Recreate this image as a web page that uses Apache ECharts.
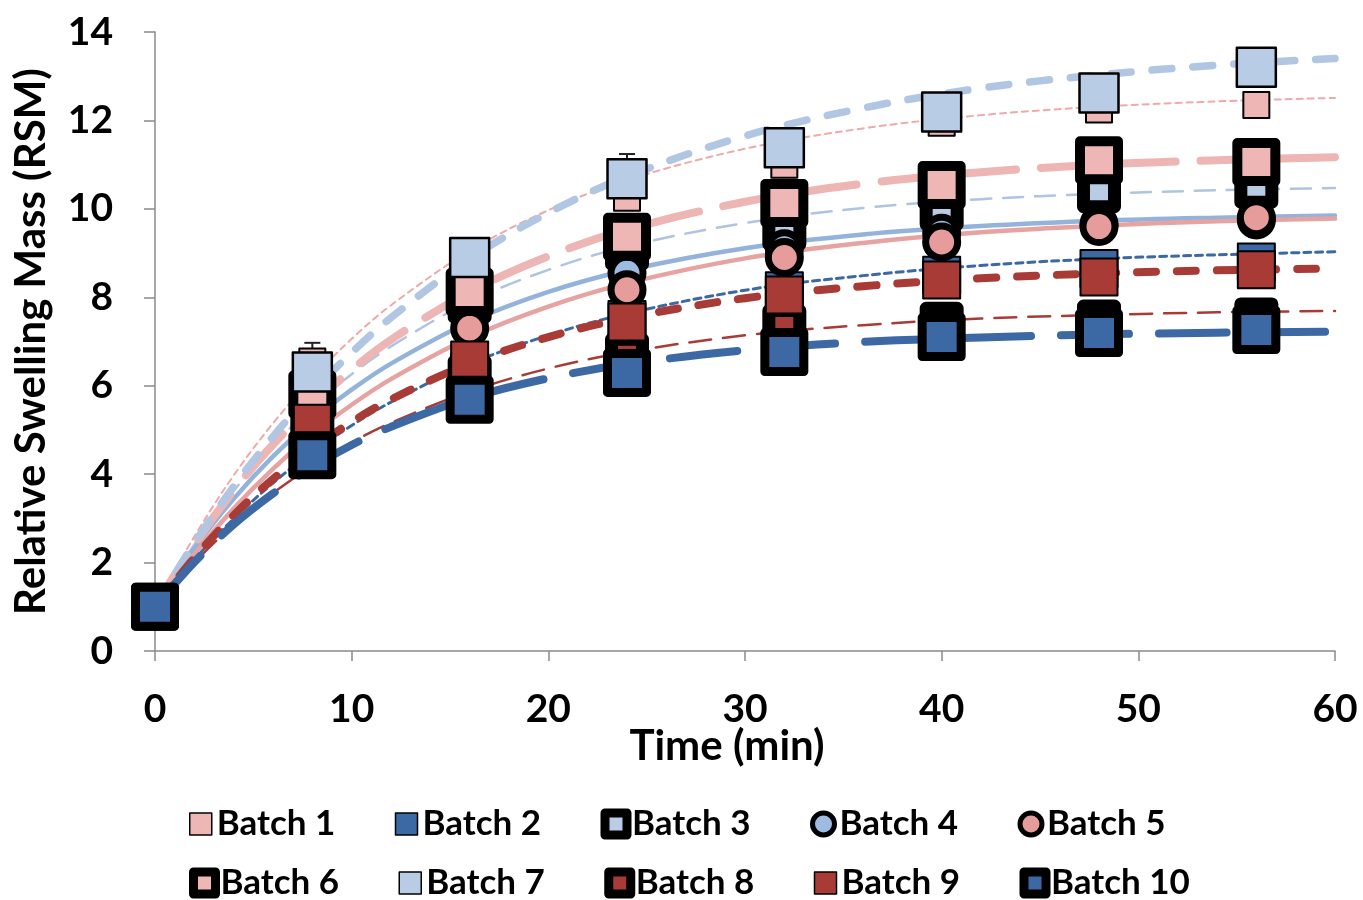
<!DOCTYPE html>
<html><head><meta charset="utf-8">
<script src="https://cdn.jsdelivr.net/npm/echarts@6/dist/echarts.min.js"></script>
<style>html,body{margin:0;padding:0;background:#fff}#c{width:1363px;height:900px}</style>
</head><body><div id="c"></div>
<script>
// measured time points (min)
const times = [0, 8, 16, 24, 32, 40, 48, 56];
// measured RSM values per batch
const m1  = [1, 6.55, 8.7, 10.25, 11.0, 11.95, 12.25, 12.35];
const m2  = [1, 4.6, 6.3, 7.5, 8.15, 8.5, 8.65, 8.8];
const m3  = [1, 5.7, 7.9, 9.1, 9.55, 10.0, 10.4, 10.5];
const m4  = [1, 5.6, 7.6, 8.55, 9.1, 9.45, 9.65, 9.75];
const m5  = [1, 5.5, 7.3, 8.17, 8.9, 9.25, 9.6, 9.8];
const m6  = [1, 5.8, 8.12, 9.37, 10.13, 10.54, 11.1, 11.06];
const m7  = [1, 6.31, 8.9, 10.68, 11.38, 12.19, 12.62, 13.2];
const m8  = [1, 5.0, 6.2, 6.7, 7.35, 7.4, 7.45, 7.5];
const m9  = [1, 5.15, 6.58, 7.44, 8.05, 8.39, 8.46, 8.62];
const m10 = [1, 4.43, 5.68, 6.29, 6.76, 7.1, 7.19, 7.26];
// upper error bars visible for batch 7
const err7 = [0, 0.66, 0, 0.56, 0, 0, 0, 0];
// fitted curves
const fitTimes = [0, 2, 4, 6, 8, 10, 12, 16, 20, 24, 30, 36, 42, 48, 54, 60];
const fit1  = [1, 2.59, 3.97, 5.15, 6.17, 7.06, 7.82, 9.05, 9.97, 10.65, 11.36, 11.82, 12.12, 12.31, 12.43, 12.51];
const fit2  = [1, 2.07, 2.99, 3.80, 4.50, 5.10, 5.63, 6.49, 7.14, 7.63, 8.16, 8.49, 8.72, 8.87, 8.96, 9.03];
const fit3  = [1, 2.41, 3.62, 4.64, 5.52, 6.26, 6.89, 7.90, 8.62, 9.15, 9.68, 10.02, 10.22, 10.34, 10.42, 10.47];
const fit4  = [1, 2.32, 3.44, 4.40, 5.22, 5.91, 6.50, 7.44, 8.12, 8.61, 9.11, 9.42, 9.61, 9.73, 9.80, 9.85];
const fit5  = [1, 2.19, 3.22, 4.12, 4.90, 5.57, 6.15, 7.09, 7.79, 8.32, 8.88, 9.23, 9.47, 9.62, 9.72, 9.78];
const fit6  = [1, 2.41, 3.63, 4.67, 5.57, 6.36, 7.04, 8.12, 8.93, 9.53, 10.16, 10.57, 10.83, 11.0, 11.1, 11.17];
const fit7  = [1, 2.44, 3.72, 4.85, 5.86, 6.75, 7.54, 8.87, 9.91, 10.73, 11.65, 12.28, 12.73, 13.03, 13.25, 13.40];
const fit8  = [1, 2.0, 2.85, 3.57, 4.19, 4.72, 5.16, 5.87, 6.39, 6.76, 7.14, 7.37, 7.52, 7.60, 7.66, 7.69];
const fit9  = [1, 2.11, 3.07, 3.89, 4.58, 5.18, 5.69, 6.50, 7.10, 7.53, 7.98, 8.25, 8.43, 8.54, 8.61, 8.65];
const fit10 = [1, 2.01, 2.86, 3.56, 4.16, 4.66, 5.07, 5.72, 6.17, 6.49, 6.80, 6.99, 7.09, 7.16, 7.20, 7.22];
const names = ['Batch 1','Batch 2','Batch 3','Batch 4','Batch 5','Batch 6','Batch 7','Batch 8','Batch 9','Batch 10'];
const xTicks = [0, 10, 20, 30, 40, 50, 60];
const yTicks = [0, 2, 4, 6, 8, 10, 12, 14];

const PINK = '#EEB7B6', SALMON = '#E59C9A', LBLUE = '#B8CCE6', CBLUE = '#9EBCE2', DBLUE = '#3C69A3', DRED = '#A93B37';
const marks = [m1,m2,m3,m4,m5,m6,m7,m8,m9,m10];
const fits = [fit1,fit2,fit3,fit4,fit5,fit6,fit7,fit8,fit9,fit10];
const mstyle = [
  {sym:'rect', size:26, color:PINK,  bw:2},
  {sym:'rect', size:37, color:DBLUE, bw:2},
  {sym:'rect', size:31, color:LBLUE, bw:13},
  {sym:'circle', size:32, color:CBLUE, bw:7},
  {sym:'circle', size:32, color:SALMON, bw:7},
  {sym:'rect', size:38, color:PINK,  bw:10},
  {sym:'rect', size:39, color:LBLUE, bw:2.5},
  {sym:'rect', size:31, color:DRED,  bw:13},
  {sym:'rect', size:37, color:DRED,  bw:2},
  {sym:'rect', size:39, color:DBLUE, bw:9}
];
const lstyle = [
  {color:'#EFA9A8', width:2,   type:[6,5]},
  {color:'#3C69A3', width:3,   type:[7,5]},
  {color:'#AFC4E2', width:2.5, type:[20,12]},
  {color:'#93B3DC', width:4.5, type:'solid'},
  {color:'#E6A3A1', width:4.5, type:'solid'},
  {color:'#EDB5B4', width:8,   type:[55,25]},
  {color:'#B1C6E3', width:7.5, type:[20,21]},
  {color:'#A93B37', width:2.5, type:[22,12]},
  {color:'#A93B37', width:8,   type:[19,21]},
  {color:'#3C69A3', width:8,   type:[68,30]}
];
const FONT = 'Lato';
const series = [];
fits.forEach((f, i) => {
  series.push({
    name: names[i] + ' fit', type: 'line', z: 2, symbol: 'none', smooth: 0.35,
    silent: true, legendHoverLink: false,
    lineStyle: {color: lstyle[i].color, width: lstyle[i].width, type: lstyle[i].type, cap: 'round'},
    data: fitTimes.map((t, k) => [t, f[k]])
  });
});
series.push({
  name: 'err7', type: 'custom', z: 3,
  renderItem: function (params, api) {
    const e = api.value(2);
    if (!e) return null;
    const p0 = api.coord([api.value(0), api.value(1)]);
    const p1 = api.coord([api.value(0), api.value(1) + e]);
    return {type: 'group', children: [
      {type: 'line', shape: {x1: p0[0], y1: p0[1], x2: p1[0], y2: p1[1]}, style: {stroke: '#222', lineWidth: 2}},
      {type: 'line', shape: {x1: p1[0]-8, y1: p1[1], x2: p1[0]+8, y2: p1[1]}, style: {stroke: '#222', lineWidth: 2}}
    ]};
  },
  data: times.map((t, k) => [t, m7[k], err7[k]])
});
marks.forEach((m, i) => {
  const s = mstyle[i];
  series.push({
    name: names[i], type: 'scatter', z: 4, symbol: s.sym, symbolSize: s.size,
    itemStyle: {color: s.color, borderColor: '#000', borderWidth: s.bw, borderJoin: 'round', opacity: 1},
    emphasis: {disabled: true},
    data: times.map((t, k) => [t, m[k]])
  });
});
const legendData = names.map((n, i) => {
  const s = mstyle[i];
  let bw = s.bw > 5 ? (s.sym === 'circle' ? 5 : 9) : 1.5;
  return {name: n, icon: s.sym, itemStyle: {color: s.color, borderColor: '#000', borderWidth: bw, borderJoin: 'round'}};
});
const legendBase = {
  left: 184, orient: 'horizontal', itemWidth: 22, itemHeight: 22, itemGap: 29, selectedMode: false,
  textStyle: {fontFamily: FONT, fontWeight: 'bold', fontSize: 35, color: '#000', width: 149, lineHeight: 40}
};
const chart = echarts.init(document.getElementById('c'), null, {renderer: 'canvas'});
chart.setOption({
  animation: false,
  backgroundColor: '#fff',
  grid: {left: 155, right: 28, top: 32, bottom: 249, containLabel: false},
  legend: [
    Object.assign({}, legendBase, {data: legendData.slice(0, 5), top: 799}),
    Object.assign({}, legendBase, {data: legendData.slice(5), top: 858})
  ],
  graphic: [{
    type: 'text', x: 727, y: 746,
    style: {text: 'Time (min)', align: 'center', verticalAlign: 'middle', fontFamily: FONT, fontWeight: 'bold', fontSize: 42, fill: '#000'}
  }],
  xAxis: {
    type: 'value', min: xTicks[0], max: xTicks[xTicks.length-1], interval: 10,
    axisLine: {show: true, lineStyle: {color: '#8a8a8a', width: 1.5}},
    axisTick: {show: true, length: 10, lineStyle: {color: '#8a8a8a', width: 1.5}},
    splitLine: {show: false},
    axisLabel: {fontFamily: FONT, fontWeight: 'bold', fontSize: 39, color: '#000', margin: 39}
  },
  yAxis: {
    type: 'value', min: yTicks[0], max: yTicks[yTicks.length-1], interval: 2,
    name: 'Relative Swelling Mass (RSM)', nameLocation: 'middle', nameGap: 103, nameRotate: 90,
    nameTextStyle: {fontFamily: FONT, fontWeight: 'bold', fontSize: 42, color: '#000'},
    axisLine: {show: true, lineStyle: {color: '#8a8a8a', width: 1.5}},
    axisTick: {show: true, length: 11, lineStyle: {color: '#8a8a8a', width: 1.5}},
    splitLine: {show: false},
    axisLabel: {fontFamily: FONT, fontWeight: 'bold', fontSize: 39, color: '#000', margin: 42}
  },
  series: series
});
</script></body></html>
